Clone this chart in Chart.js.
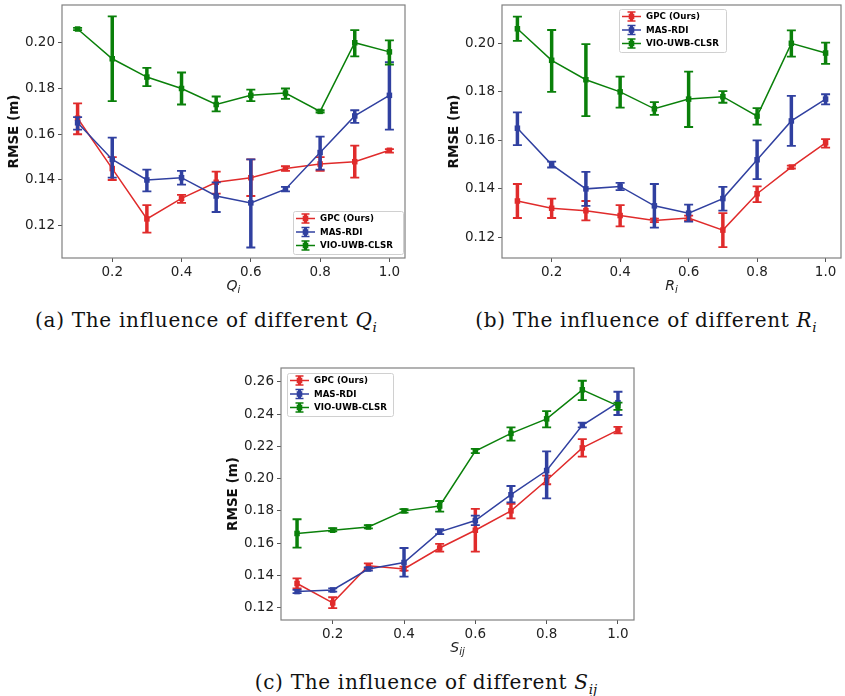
<!DOCTYPE html>
<html lang="en">
  <head>
    <meta charset="UTF-8" />
    <title>RMSE vs parameters</title>
    <style>
      body {
        margin: 0;
        padding: 0;
        background: #fff;
      }
      #page {
        position: relative;
        width: 845px;
        height: 696px;
        background: #fff;
        overflow: hidden;
      }
      .panel {
        position: absolute;
      }
      .cap {
        position: absolute;
        width: 400px;
        font-family: "DejaVu Serif", "Liberation Serif", serif;
        font-size: 20px;
        letter-spacing: 0.7px;
        line-height: 24px;
        color: #111;
        text-align: center;
        white-space: nowrap;
      }
      .cap sub {
        font-size: 68%;
        vertical-align: -0.35em;
        line-height: 0;
        letter-spacing: 0;
      }
    </style>
  </head>
  <body>
    <div id="page">
      <div class="panel" style="left: 0; top: 0; width: 420px; height: 300px">
        <canvas id="chartQ"></canvas>
      </div>
      <div class="panel" style="left: 420px; top: 0; width: 425px; height: 300px">
        <canvas id="chartR"></canvas>
      </div>
      <div class="panel" style="left: 210px; top: 350px; width: 440px; height: 320px">
        <canvas id="chartS"></canvas>
      </div>
      <div class="cap" style="left: 6px; top: 308px">(a) The influence of different <i>Q</i><sub><i>i</i></sub></div>
      <div class="cap" style="left: 446px; top: 308px">(b) The influence of different <i>R</i><sub><i>i</i></sub></div>
      <div class="cap" style="left: 226px; top: 670px">(c) The influence of different <i>S</i><sub><i>ij</i></sub></div>
    </div>

    <script src="https://cdn.jsdelivr.net/npm/chart.js"></script>
    <script>
      // shared x values and ticks
      const xValues = [0.1, 0.2, 0.3, 0.4, 0.5, 0.6, 0.7, 0.8, 0.9, 1.0];
      const xTicks = [0.2, 0.4, 0.6, 0.8, 1.0];
      const seriesNames = ["GPC (Ours)", "MAS-RDI", "VIO-UWB-CLSR"];

      // (a) Q_i
      const qTicks = [0.12, 0.14, 0.16, 0.18, 0.2];
      const qGpc = [0.167, 0.145, 0.123, 0.132, 0.139, 0.141, 0.145, 0.147, 0.148, 0.153];
      const qGpcLo = [0.16, 0.14, 0.117, 0.13, 0.134, 0.133, 0.144, 0.144, 0.141, 0.152];
      const qGpcHi = [0.1735, 0.15, 0.129, 0.1335, 0.1437, 0.149, 0.146, 0.15, 0.155, 0.1535];
      const qMas = [0.165, 0.149, 0.14, 0.141, 0.133, 0.13, 0.136, 0.152, 0.168, 0.177];
      const qMasLo = [0.162, 0.141, 0.135, 0.138, 0.126, 0.1105, 0.135, 0.1445, 0.165, 0.162];
      const qMasHi = [0.1675, 0.1585, 0.1445, 0.144, 0.139, 0.149, 0.137, 0.159, 0.1705, 0.1915];
      const qVio = [0.206, 0.193, 0.185, 0.18, 0.173, 0.177, 0.178, 0.17, 0.2, 0.196];
      const qVioLo = [0.2055, 0.1745, 0.181, 0.173, 0.17, 0.1745, 0.1755, 0.1695, 0.194, 0.1905];
      const qVioHi = [0.2065, 0.2115, 0.189, 0.187, 0.1765, 0.1795, 0.18, 0.1705, 0.2055, 0.201];

      // (b) R_i
      const rTicks = [0.12, 0.14, 0.16, 0.18, 0.2];
      const rGpc = [0.135, 0.132, 0.131, 0.129, 0.127, 0.128, 0.123, 0.138, 0.149, 0.159];
      const rGpcLo = [0.128, 0.128, 0.127, 0.1245, 0.1263, 0.127, 0.116, 0.1345, 0.1484, 0.157];
      const rGpcHi = [0.142, 0.136, 0.135, 0.1333, 0.1277, 0.129, 0.13, 0.141, 0.1496, 0.1605];
      const rMas = [0.165, 0.15, 0.14, 0.141, 0.133, 0.13, 0.136, 0.152, 0.168, 0.177];
      const rMasLo = [0.158, 0.1488, 0.133, 0.1395, 0.124, 0.1265, 0.131, 0.144, 0.1577, 0.1748];
      const rMasHi = [0.1715, 0.1512, 0.147, 0.1425, 0.142, 0.1335, 0.1408, 0.16, 0.1783, 0.179];
      const rVio = [0.206, 0.193, 0.185, 0.18, 0.173, 0.177, 0.178, 0.17, 0.2, 0.196];
      const rVioLo = [0.201, 0.18, 0.17, 0.1735, 0.1705, 0.1655, 0.1755, 0.1665, 0.1945, 0.1915];
      const rVioHi = [0.211, 0.2055, 0.1997, 0.1863, 0.1758, 0.1883, 0.1803, 0.1733, 0.2053, 0.2003];

      // (c) S_ij
      const sTicks = [0.12, 0.14, 0.16, 0.18, 0.2, 0.22, 0.24, 0.26];
      const sGpc = [0.135, 0.123, 0.146, 0.144, 0.157, 0.168, 0.18, 0.199, 0.219, 0.23];
      const sGpcLo = [0.132, 0.1197, 0.1443, 0.143, 0.1547, 0.1547, 0.1754, 0.1965, 0.2136, 0.228];
      const sGpcHi = [0.1382, 0.1265, 0.1475, 0.1455, 0.1595, 0.1812, 0.1843, 0.2018, 0.2245, 0.232];
      const sMas = [0.13, 0.131, 0.144, 0.148, 0.167, 0.174, 0.19, 0.205, 0.233, 0.247];
      const sMasLo = [0.129, 0.13, 0.143, 0.1393, 0.1656, 0.1712, 0.1853, 0.1878, 0.2317, 0.2394];
      const sMasHi = [0.131, 0.132, 0.145, 0.157, 0.1686, 0.177, 0.1954, 0.2169, 0.2347, 0.2538];
      const sVio = [0.166, 0.168, 0.17, 0.18, 0.183, 0.217, 0.228, 0.237, 0.255, 0.245];
      const sVioLo = [0.1572, 0.1673, 0.1692, 0.1789, 0.1795, 0.2158, 0.2235, 0.2317, 0.2486, 0.2425];
      const sVioHi = [0.1748, 0.1693, 0.1712, 0.1811, 0.1861, 0.2184, 0.2317, 0.2418, 0.2606, 0.247];

      const colors = ["#e02b2b", "#3040a0", "#0a800a"];

      Chart.defaults.font.family = "'DejaVu Sans', sans-serif";

      // draws the vertical error bars with caps right after each dataset
      const errorBars = {
        id: "errorBars",
        afterDatasetDraw(chart, args) {
          const ds = chart.data.datasets[args.index];
          if (!ds.lo) return;
          const xs = chart.scales.x;
          const ys = chart.scales.y;
          const ctx = chart.ctx;
          ctx.save();
          ctx.strokeStyle = ds.borderColor;
          ds.data.forEach((p, i) => {
            const px = xs.getPixelForValue(p.x);
            const top = ys.getPixelForValue(ds.hi[i]);
            const bot = ys.getPixelForValue(ds.lo[i]);
            ctx.lineWidth = 3.5;
            ctx.beginPath();
            ctx.moveTo(px, top);
            ctx.lineTo(px, bot);
            ctx.stroke();
            ctx.lineWidth = 1.8;
            ctx.beginPath();
            ctx.moveTo(px - 4.5, top);
            ctx.lineTo(px + 4.5, top);
            ctx.moveTo(px - 4.5, bot);
            ctx.lineTo(px + 4.5, bot);
            ctx.stroke();
          });
          ctx.restore();
        },
      };

      // frame, axis titles, legend box
      const decor = {
        id: "decor",
        afterDraw(chart, args, opts) {
          const ctx = chart.ctx;
          const a = chart.chartArea;
          ctx.save();
          ctx.strokeStyle = "#808080";
          ctx.lineWidth = 1.2;
          ctx.strokeRect(a.left, a.top, a.right - a.left, a.bottom - a.top);

          // y title
          ctx.save();
          ctx.translate(a.left - 48, (a.top + a.bottom) / 2);
          ctx.rotate(-Math.PI / 2);
          ctx.fillStyle = "#111";
          ctx.font = "bold 13.5px 'DejaVu Sans'";
          ctx.textAlign = "center";
          ctx.textBaseline = "middle";
          ctx.fillText("RMSE (m)", 0, 0);
          ctx.restore();

          // x title with subscript
          ctx.fillStyle = "#222";
          ctx.font = "italic 14px 'DejaVu Sans'";
          const mainW = ctx.measureText(opts.xMain).width;
          ctx.font = "italic 10px 'DejaVu Sans'";
          const subW = ctx.measureText(opts.xSub).width;
          const cx = (a.left + a.right) / 2 - (mainW + subW) / 2;
          const by = a.bottom + 32;
          ctx.textAlign = "left";
          ctx.textBaseline = "alphabetic";
          ctx.font = "italic 14px 'DejaVu Sans'";
          ctx.fillText(opts.xMain, cx, by);
          ctx.font = "italic 10px 'DejaVu Sans'";
          ctx.fillText(opts.xSub, cx + mainW, by + 3);

          // legend
          const lg = opts.legend;
          ctx.fillStyle = "rgba(255,255,255,0.85)";
          ctx.strokeStyle = "#d0d0d0";
          ctx.lineWidth = 1;
          ctx.beginPath();
          ctx.roundRect(lg.x + 0.5, lg.y + 0.5, lg.w, 43, 2);
          ctx.fill();
          ctx.stroke();
          chart.data.datasets.forEach((ds, i) => {
            const cy = lg.y + 7.5 + i * 13.5;
            const hx = lg.x + 12.5;
            ctx.strokeStyle = ds.borderColor;
            ctx.fillStyle = ds.borderColor;
            ctx.lineWidth = 1.5;
            ctx.beginPath();
            ctx.moveTo(lg.x + 3, cy);
            ctx.lineTo(lg.x + 22, cy);
            ctx.stroke();
            ctx.lineWidth = 3;
            ctx.beginPath();
            ctx.moveTo(hx, cy - 4.5);
            ctx.lineTo(hx, cy + 4.5);
            ctx.stroke();
            ctx.lineWidth = 1.5;
            ctx.beginPath();
            ctx.moveTo(hx - 4, cy - 4.5);
            ctx.lineTo(hx + 4, cy - 4.5);
            ctx.moveTo(hx - 4, cy + 4.5);
            ctx.lineTo(hx + 4, cy + 4.5);
            ctx.stroke();
            ctx.fillRect(hx - 2.8, cy - 2.8, 5.6, 5.6);
            ctx.fillStyle = "#000";
            ctx.font = "bold 8.7px 'DejaVu Sans'";
            ctx.textAlign = "left";
            ctx.textBaseline = "middle";
            ctx.fillText(ds.label, lg.x + 27, cy + 0.5);
          });
          ctx.restore();
        },
      };

      function makeChart(id, panel) {
        const datasets = panel.series.map((s, i) => ({
          label: seriesNames[i],
          data: xValues.map((x, k) => ({ x: x, y: s.y[k] })),
          lo: s.lo,
          hi: s.hi,
          borderColor: colors[i],
          backgroundColor: colors[i],
          borderWidth: 1.5,
          pointStyle: "rect",
          pointRadius: 3.9,
          pointBorderWidth: 0,
          tension: 0,
          order: 3 - i,
        }));

        new Chart(document.getElementById(id), {
          type: "line",
          data: { datasets: datasets },
          plugins: [errorBars, decor],
          options: {
            responsive: true,
            maintainAspectRatio: false,
            animation: false,
            layout: {
              padding: { left: 0, top: panel.area.top, right: panel.area.right, bottom: 0 },
            },
            scales: {
              x: {
                type: "linear",
                min: 0.055,
                max: 1.045,
                afterBuildTicks: (s) => {
                  s.ticks = xTicks.map((v) => ({ value: v }));
                },
                afterFit: (s) => {
                  s.height = panel.area.bottom;
                  s.paddingLeft = 0;
                  s.paddingRight = 0;
                },
                ticks: {
                  color: "#222",
                  font: { size: 13.5 },
                  padding: 2,
                  maxRotation: 0,
                  callback: (v) => v.toFixed(1),
                },
                grid: { drawOnChartArea: false, drawTicks: true, tickLength: 4, color: "#555" },
                border: { display: false },
              },
              y: {
                min: panel.yMin,
                max: panel.yMax,
                afterBuildTicks: (s) => {
                  s.ticks = panel.yTicks.map((v) => ({ value: v }));
                },
                afterFit: (s) => {
                  s.width = panel.area.left;
                  s.paddingTop = 0;
                  s.paddingBottom = 0;
                },
                ticks: {
                  color: "#222",
                  font: { size: 13.5 },
                  padding: 3,
                  callback: (v) => v.toFixed(2),
                },
                grid: { drawOnChartArea: false, drawTicks: true, tickLength: 4, color: "#555" },
                border: { display: false },
              },
            },
            plugins: {
              legend: { display: false },
              tooltip: { enabled: false },
              decor: { xMain: panel.xMain, xSub: panel.xSub, legend: panel.legend },
            },
          },
        });
      }

      makeChart("chartQ", {
        area: { left: 62, top: 5, right: 15, bottom: 42 },
        yMin: 0.1059,
        yMax: 0.2165,
        yTicks: qTicks,
        xMain: "Q",
        xSub: "i",
        legend: { x: 293, y: 211, w: 110 },
        series: [
          { y: qGpc, lo: qGpcLo, hi: qGpcHi },
          { y: qMas, lo: qMasLo, hi: qMasHi },
          { y: qVio, lo: qVioLo, hi: qVioHi },
        ],
      });

      makeChart("chartR", {
        area: { left: 82, top: 5, right: 1, bottom: 42 },
        yMin: 0.1115,
        yMax: 0.2158,
        yTicks: rTicks,
        xMain: "R",
        xSub: "i",
        legend: { x: 199, y: 9, w: 107 },
        series: [
          { y: rGpc, lo: rGpcLo, hi: rGpcHi },
          { y: rMas, lo: rMasLo, hi: rMasHi },
          { y: rVio, lo: rVioLo, hi: rVioHi },
        ],
      });

      makeChart("chartS", {
        area: { left: 71, top: 18, right: 16, bottom: 50 },
        yMin: 0.1124,
        yMax: 0.2685,
        yTicks: sTicks,
        xMain: "S",
        xSub: "ij",
        legend: { x: 77, y: 23, w: 106 },
        series: [
          { y: sGpc, lo: sGpcLo, hi: sGpcHi },
          { y: sMas, lo: sMasLo, hi: sMasHi },
          { y: sVio, lo: sVioLo, hi: sVioHi },
        ],
      });
    </script>
  </body>
</html>
